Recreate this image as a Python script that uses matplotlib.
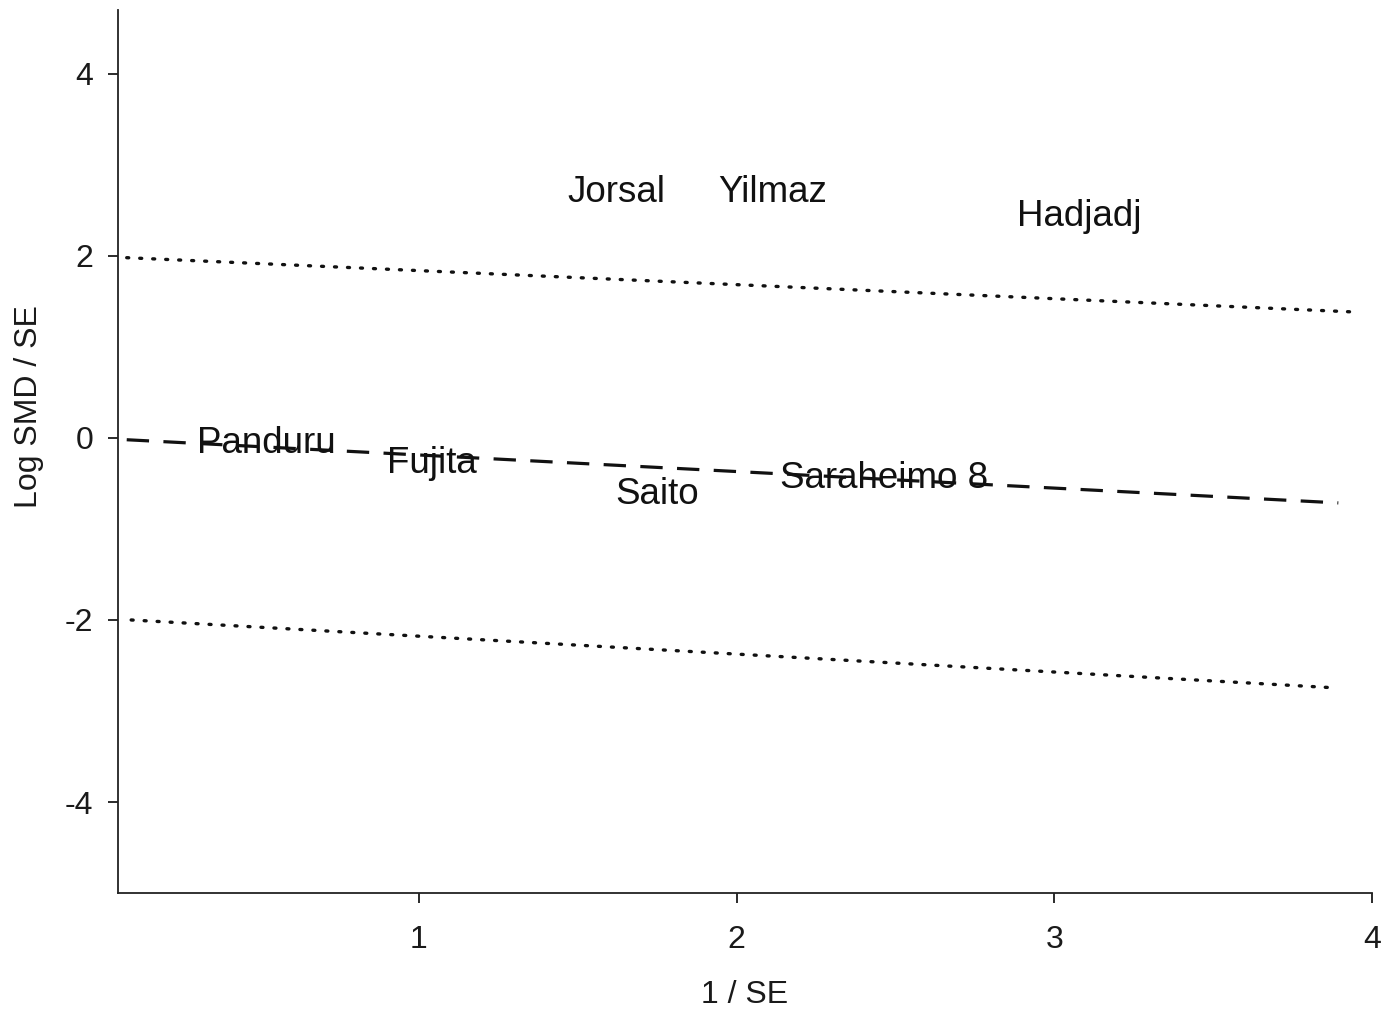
import numpy as np
import matplotlib
matplotlib.use('Agg')
import matplotlib.pyplot as plt

plt.rcParams['font.family'] = ['Liberation Sans', 'DejaVu Sans']
plt.rcParams['axes.unicode_minus'] = False

# study labels placed at (1/SE, log SMD/SE)
studies = ['Jorsal', 'Yilmaz', 'Hadjadj', 'Panduru', 'Fujita', 'Saito', 'Saraheimo 8']
inv_se = [1.62, 2.114, 3.078, 0.518, 1.041, 1.749, 2.464]
z_score = [2.70, 2.70, 2.435, -0.065, -0.285, -0.625, -0.445]

# regression line and +/-2 bounds (start, end)
line_x = [0.08, 3.894]
reg_y = [-0.02, -0.714]
upper_x = [0.08, 3.935]
upper_y = [1.98, 1.385]
lower_x = [0.094, 3.89]
lower_y = [-2.0, -2.747]

fig = plt.figure(figsize=(13.95, 10.1), dpi=100)
ax = fig.add_axes([0.0846, 0.1158, 0.8989, 0.8742])

ax.plot(line_x, reg_y, color='#111111', lw=2.3, dashes=(7, 4.5))
ax.plot(upper_x, upper_y, color='#111111', lw=2.4, ls=(0, (0.6, 3.3)), dash_capstyle='round')
ax.plot(lower_x, lower_y, color='#111111', lw=2.4, ls=(0, (0.6, 3.3)), dash_capstyle='round')

for name, x, y in zip(studies, inv_se, z_score):
    ax.text(x, y, name, ha='center', va='center', fontsize=26.5, color='#111111')

ax.set_xlim(0.0526, 4.0)
ax.set_ylim(-5.0, 4.70)
ax.set_xticks([1, 2, 3, 4])
ax.set_yticks([-4, -2, 0, 2, 4])

for s in ['top', 'right']:
    ax.spines[s].set_visible(False)
for s in ['left', 'bottom']:
    ax.spines[s].set_linewidth(1.3)
    ax.spines[s].set_color('#222222')

ax.tick_params(direction='out', length=7, width=1.3, labelsize=23, colors='#1a1a1a', pad=11)
ax.tick_params(axis='x', pad=16)

ax.set_xlabel('1 / SE', fontsize=23, color='#1a1a1a', labelpad=18)
ax.set_ylabel('Log SMD / SE', fontsize=23, color='#1a1a1a')
ax.yaxis.set_label_coords(-0.059, 0.5515)

fig.savefig('out.png', dpi=100)
